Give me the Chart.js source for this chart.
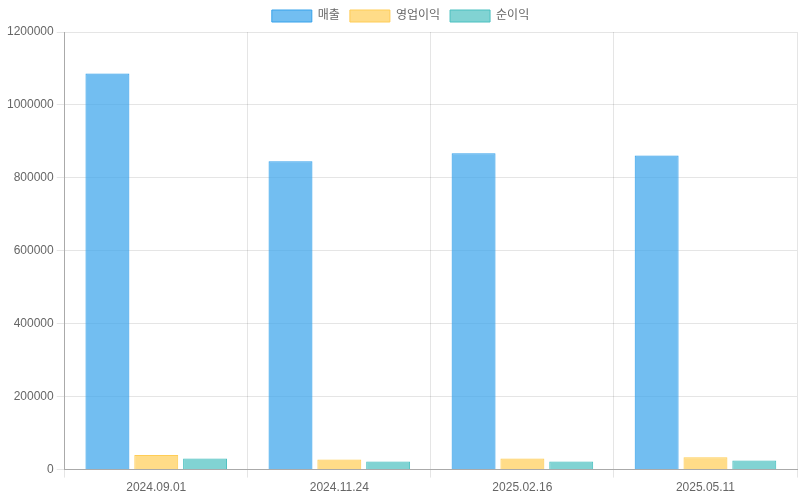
<!DOCTYPE html>
<html><head><meta charset="utf-8">
<script src="https://cdn.jsdelivr.net/npm/chart.js@4"></script>
<style>html,body{margin:0;padding:0;background:#fff}#wrap{width:800px;height:500px}</style>
</head><body><div id="wrap"><canvas id="c"></canvas></div>
<script>
const categories = ['2024.09.01','2024.11.24','2025.02.16','2025.05.11'];
const sales = [1086000, 845800, 867700, 861000];
const operatingProfit = [40100, 27500, 30200, 33800];
const netProfit = [30200, 22000, 22000, 24700];
const seriesNames = ['매출','영업이익','순이익'];

Chart.defaults.font.family = "'Liberation Sans', 'Noto Sans CJK KR', sans-serif";
Chart.defaults.color = '#666';
new Chart(document.getElementById('c'), {
  type: 'bar',
  data: {
    labels: categories,
    datasets: [
      {label: seriesNames[0], data: sales, backgroundColor: 'rgba(54,162,235,0.7)', borderColor: 'rgba(54,162,235,1)', borderWidth: 1},
      {label: seriesNames[1], data: operatingProfit, backgroundColor: 'rgba(255,205,86,0.7)', borderColor: 'rgba(255,205,86,1)', borderWidth: 1},
      {label: seriesNames[2], data: netProfit, backgroundColor: 'rgba(75,192,192,0.7)', borderColor: 'rgba(75,192,192,1)', borderWidth: 1}
    ]
  },
  options: {
    responsive: true, maintainAspectRatio: false, animation: false,
    layout: { padding: { left: 4, right: 3, bottom: 2 } },
    plugins: { legend: { position: 'top' } },
    scales: {
      y: { min: 0, max: 1200000, border: { color: '#aaa' },
           ticks: { stepSize: 200000, callback: v => String(v) } },
      x: { border: { color: '#aaa' } }
    }
  }
});
</script></body></html>
